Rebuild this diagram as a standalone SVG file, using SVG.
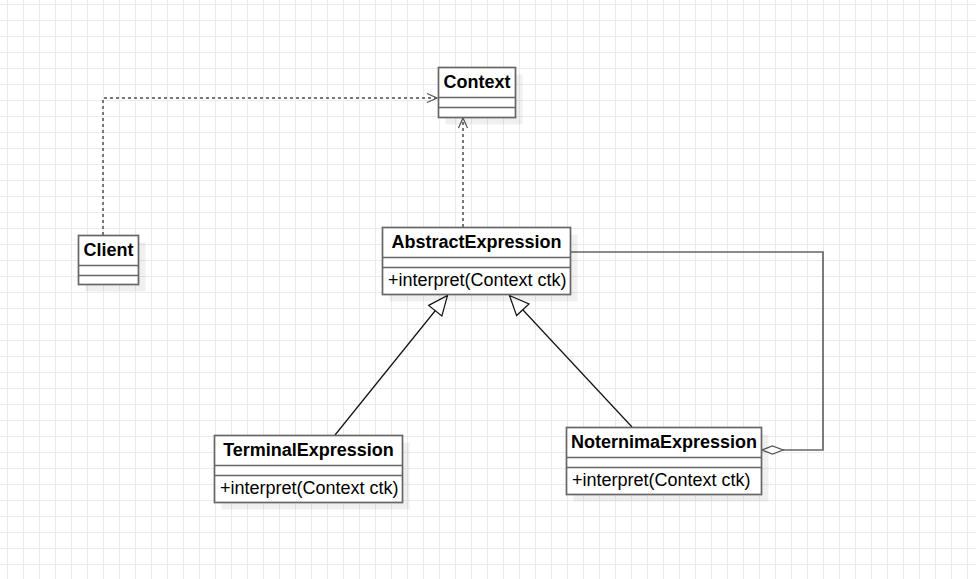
<svg xmlns="http://www.w3.org/2000/svg" width="976" height="579" viewBox="0 0 976 579">
<defs>
<pattern id="grid" x="7" y="4" width="16" height="16" patternUnits="userSpaceOnUse">
<path d="M0.5 0V16M0 0.5H16" fill="none" stroke="#ebebeb" stroke-width="1"/>
</pattern>
<marker id="open" viewBox="0 0 12 12" refX="11" refY="6" markerWidth="12" markerHeight="12" markerUnits="userSpaceOnUse" orient="auto">
<path d="M1 1.5L11 6L1 10.5" fill="none" stroke="#555" stroke-width="1.2"/>
</marker>
<marker id="gen" viewBox="0 0 22 20" refX="21" refY="10" markerWidth="22" markerHeight="20" markerUnits="userSpaceOnUse" orient="auto">
<path d="M1.5 1.5L21 10L1.5 18.5Z" fill="#fff" stroke="#111" stroke-width="1.2"/>
</marker>
</defs>
<style>
.box{fill:#fff;stroke:#666;stroke-width:1.7}
.sh{fill:#000;fill-opacity:0.06}
.div{stroke:#666;stroke-width:1.7}
.t{font-family:"Liberation Sans",Arial,sans-serif;font-size:18px;fill:#000}
.b{font-weight:bold;text-anchor:middle}
.dot{fill:none;stroke:#777;stroke-width:2;stroke-dasharray:3 3}
.gl{fill:none;stroke:#111;stroke-width:1.2}
.ag{fill:none;stroke:#666;stroke-width:1.7}
</style>
<rect width="976" height="579" fill="#fff"/>
<rect width="976" height="579" fill="url(#grid)"/>

<g id="connectors">
<path class="dot" d="M103 235V98H437" marker-end="url(#open)"/>
<path class="dot" d="M463 227V118" marker-end="url(#open)"/>
<path class="gl" d="M335 435L447.5 295.5" marker-end="url(#gen)"/>
<path class="gl" d="M632 427L509.5 295.5" marker-end="url(#gen)"/>
<path class="ag" d="M571 252H823V450H783"/>
<path d="M762 450L772.5 446L783 450L772.5 454Z" fill="#fff" stroke="#555" stroke-width="1.3"/>
</g>

<g id="Context">
<rect class="sh" x="445.5" y="74.5" width="77" height="50"/>
<rect class="box" x="438.5" y="67.5" width="77" height="50"/>
<line class="div" x1="438.5" y1="97.5" x2="515.5" y2="97.5"/>
<line class="div" x1="438.5" y1="107.5" x2="515.5" y2="107.5"/>
<text class="t b" x="477" y="88">Context</text>
</g>

<g id="Client">
<rect class="sh" x="85.5" y="242.5" width="60" height="49"/>
<rect class="box" x="78.5" y="235.5" width="60" height="49"/>
<line class="div" x1="78.5" y1="265.5" x2="138.5" y2="265.5"/>
<line class="div" x1="78.5" y1="275.5" x2="138.5" y2="275.5"/>
<text class="t b" x="108.5" y="255.5">Client</text>
</g>

<g id="AbstractExpression">
<rect class="sh" x="389.5" y="234.5" width="188" height="67"/>
<rect class="box" x="382.5" y="227.5" width="188" height="67"/>
<line class="div" x1="382.5" y1="257.5" x2="570.5" y2="257.5"/>
<line class="div" x1="382.5" y1="267.5" x2="570.5" y2="267.5"/>
<text class="t b" x="476.5" y="247.5">AbstractExpression</text>
<text class="t" x="388" y="286">+interpret(Context ctk)</text>
</g>

<g id="TerminalExpression">
<rect class="sh" x="221.5" y="442.5" width="188" height="67"/>
<rect class="box" x="214.5" y="435.5" width="188" height="67"/>
<line class="div" x1="214.5" y1="465.5" x2="402.5" y2="465.5"/>
<line class="div" x1="214.5" y1="475.5" x2="402.5" y2="475.5"/>
<text class="t b" x="308.5" y="455.5">TerminalExpression</text>
<text class="t" x="220" y="494">+interpret(Context ctk)</text>
</g>

<g id="NoternimaExpression">
<rect class="sh" x="573.5" y="434.5" width="195" height="67"/>
<rect class="box" x="566.5" y="427.5" width="195" height="67"/>
<line class="div" x1="566.5" y1="457.5" x2="761.5" y2="457.5"/>
<line class="div" x1="566.5" y1="467.5" x2="761.5" y2="467.5"/>
<text class="t b" x="664" y="447.5">NoternimaExpression</text>
<text class="t" x="572" y="486">+interpret(Context ctk)</text>
</g>
</svg>
